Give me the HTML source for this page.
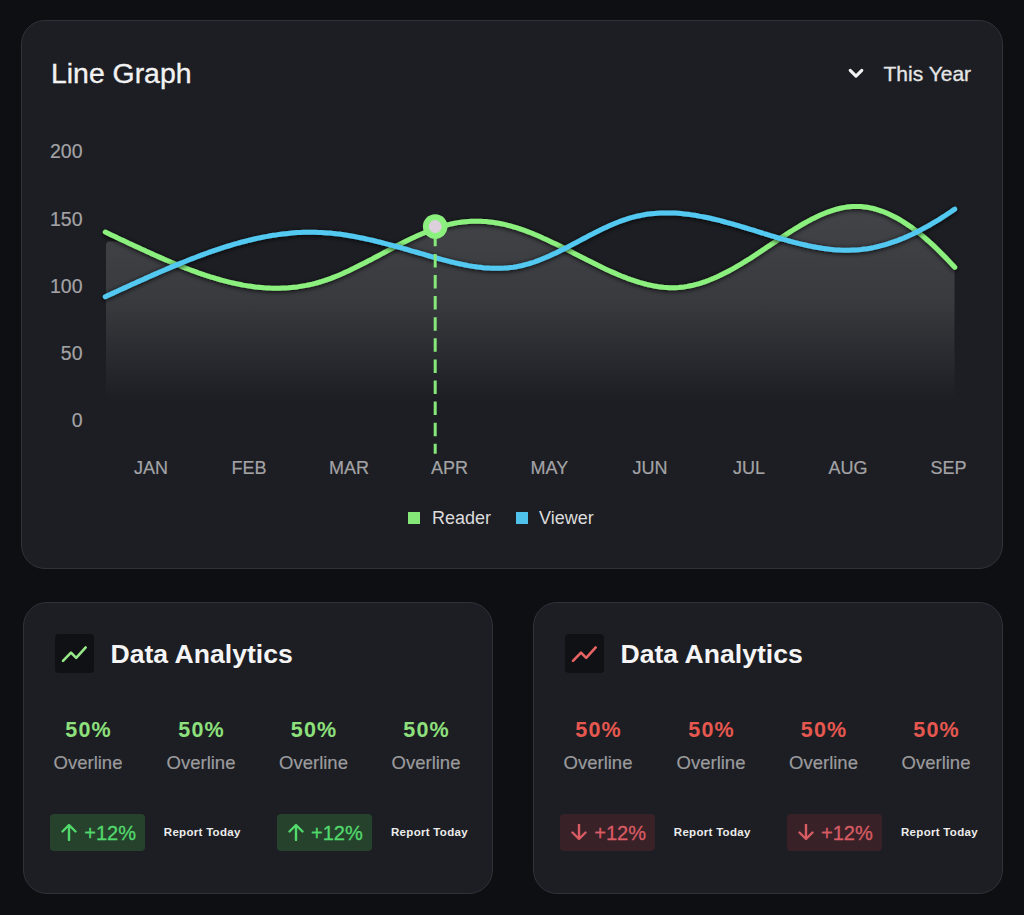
<!DOCTYPE html>
<html><head><meta charset="utf-8">
<style>
*{margin:0;padding:0;box-sizing:border-box}
html,body{width:1024px;height:915px;overflow:hidden;background:#0e0f12}
body{position:relative;font-family:"Liberation Sans",sans-serif}
.t{position:absolute;line-height:1;white-space:nowrap}
.card{position:absolute;background:#1c1e23;border:1px solid #30323a;border-radius:24px}
.sq{position:absolute}
</style></head><body>
<div class="card" style="left:21px;top:20px;width:982px;height:549px"></div>
<div class="card" style="left:23px;top:602px;width:470px;height:291.5px"></div>
<div class="card" style="left:533px;top:602px;width:470px;height:291.5px"></div>
<div class="t" style="left:51.00px;top:59.26px;font-size:28.4px;color:#f2f2f2;font-weight:400;-webkit-text-stroke:0.35px #f2f2f2;">Line Graph</div>
<div class="t" style="left:883.50px;top:62.72px;font-size:21px;color:#e6e6e6;font-weight:400;-webkit-text-stroke:0.3px #e6e6e6;">This Year</div>
<svg style="position:absolute;left:845px;top:64px" width="22" height="18" viewBox="0 0 22 18"><path d="M5.2,6.3 L11,12.1 L16.8,6.3" fill="none" stroke="#f2f2f2" stroke-width="3.1" stroke-linecap="round" stroke-linejoin="round"/></svg>
<div class="t" style="left:-217.50px;width:300px;text-align:right;top:142.49px;font-size:19.5px;color:#a3a3a6;font-weight:400;-webkit-text-stroke:0.2px #a3a3a6;">200</div>
<div class="t" style="left:-217.50px;width:300px;text-align:right;top:209.69px;font-size:19.5px;color:#a3a3a6;font-weight:400;-webkit-text-stroke:0.2px #a3a3a6;">150</div>
<div class="t" style="left:-217.50px;width:300px;text-align:right;top:276.79px;font-size:19.5px;color:#a3a3a6;font-weight:400;-webkit-text-stroke:0.2px #a3a3a6;">100</div>
<div class="t" style="left:-217.50px;width:300px;text-align:right;top:343.89px;font-size:19.5px;color:#a3a3a6;font-weight:400;-webkit-text-stroke:0.2px #a3a3a6;">50</div>
<div class="t" style="left:-217.50px;width:300px;text-align:right;top:410.89px;font-size:19.5px;color:#a3a3a6;font-weight:400;-webkit-text-stroke:0.2px #a3a3a6;">0</div>
<div class="t" style="left:1.00px;width:300px;text-align:center;top:459.36px;font-size:18px;color:#a3a3a6;font-weight:400;-webkit-text-stroke:0.2px #a3a3a6;">JAN</div>
<div class="t" style="left:99.00px;width:300px;text-align:center;top:459.36px;font-size:18px;color:#a3a3a6;font-weight:400;-webkit-text-stroke:0.2px #a3a3a6;">FEB</div>
<div class="t" style="left:199.00px;width:300px;text-align:center;top:459.36px;font-size:18px;color:#a3a3a6;font-weight:400;-webkit-text-stroke:0.2px #a3a3a6;">MAR</div>
<div class="t" style="left:299.60px;width:300px;text-align:center;top:459.36px;font-size:18px;color:#a3a3a6;font-weight:400;-webkit-text-stroke:0.2px #a3a3a6;">APR</div>
<div class="t" style="left:399.40px;width:300px;text-align:center;top:459.36px;font-size:18px;color:#a3a3a6;font-weight:400;-webkit-text-stroke:0.2px #a3a3a6;">MAY</div>
<div class="t" style="left:500.00px;width:300px;text-align:center;top:459.36px;font-size:18px;color:#a3a3a6;font-weight:400;-webkit-text-stroke:0.2px #a3a3a6;">JUN</div>
<div class="t" style="left:599.00px;width:300px;text-align:center;top:459.36px;font-size:18px;color:#a3a3a6;font-weight:400;-webkit-text-stroke:0.2px #a3a3a6;">JUL</div>
<div class="t" style="left:698.00px;width:300px;text-align:center;top:459.36px;font-size:18px;color:#a3a3a6;font-weight:400;-webkit-text-stroke:0.2px #a3a3a6;">AUG</div>
<div class="t" style="left:798.50px;width:300px;text-align:center;top:459.36px;font-size:18px;color:#a3a3a6;font-weight:400;-webkit-text-stroke:0.2px #a3a3a6;">SEP</div>
<div class="sq" style="left:408px;top:512px;width:12px;height:12px;background:#86e779"></div>
<div class="t" style="left:432.00px;top:508.76px;font-size:18px;color:#dcdcdc;font-weight:400;">Reader</div>
<div class="sq" style="left:516px;top:512px;width:12px;height:12px;background:#4fc3ec"></div>
<div class="t" style="left:539.00px;top:508.76px;font-size:18px;color:#dcdcdc;font-weight:400;">Viewer</div>
<svg style="position:absolute;left:0;top:0" width="1024" height="915" viewBox="0 0 1024 915">
<defs>
<linearGradient id="fg" gradientUnits="userSpaceOnUse" x1="0" y1="205" x2="0" y2="400">
<stop offset="0" stop-color="#ffffff" stop-opacity="0.17"/>
<stop offset="0.5" stop-color="#ffffff" stop-opacity="0.125"/>
<stop offset="1" stop-color="#ffffff" stop-opacity="0"/>
</linearGradient>
<filter id="sh" x="-10%" y="-50%" width="120%" height="200%">
<feDropShadow dx="0" dy="1" stdDeviation="2.5" flood-color="#000" flood-opacity="0.85"/>
</filter>
</defs>
<path d="M106,400 L106,245.5 Q106,241.3 110.5,241.3 L126.3,242.0 L129.3,243.4 L132.3,244.8 L135.3,246.2 L138.3,247.6 L141.3,249.0 L144.3,250.3 L147.3,251.7 L150.3,253.1 L153.3,254.4 L156.3,255.8 L159.3,257.1 L162.3,258.4 L165.3,259.7 L168.3,261.0 L171.3,262.3 L174.3,263.5 L177.3,264.8 L180.3,266.0 L183.3,267.2 L186.3,268.3 L189.3,269.5 L192.3,270.6 L195.3,271.7 L198.3,272.8 L201.3,273.8 L204.3,274.9 L207.3,275.8 L210.3,276.8 L213.3,277.7 L216.3,278.6 L219.3,279.5 L222.3,280.3 L225.3,281.1 L228.3,281.9 L231.3,282.6 L234.3,283.3 L237.3,283.9 L240.3,284.5 L243.3,285.1 L246.3,285.6 L249.3,286.1 L252.3,286.5 L255.3,286.9 L258.3,287.2 L261.3,287.5 L264.3,287.8 L267.3,287.9 L270.3,288.1 L273.3,288.2 L276.3,288.2 L279.3,288.2 L282.3,288.1 L285.3,288.0 L288.3,287.8 L291.3,287.5 L294.3,287.2 L297.3,286.9 L300.3,286.4 L303.3,285.9 L306.3,285.4 L309.3,284.8 L312.3,284.1 L315.3,283.3 L318.3,282.5 L321.3,281.6 L324.3,280.7 L327.3,279.6 L330.3,278.6 L333.3,277.4 L336.3,276.2 L339.3,275.0 L342.3,273.7 L345.3,272.3 L348.3,271.0 L351.3,269.5 L354.3,268.1 L357.3,266.6 L360.3,265.1 L363.3,263.6 L366.3,262.0 L369.3,260.4 L372.3,258.9 L375.3,257.3 L378.3,255.7 L381.3,254.1 L384.3,252.5 L387.3,250.9 L390.3,249.3 L393.3,247.7 L396.3,246.1 L399.3,244.6 L402.3,243.0 L405.3,241.5 L408.3,240.0 L411.3,238.6 L414.3,237.2 L417.3,235.8 L420.3,234.5 L423.3,233.2 L426.3,231.9 L429.3,230.7 L432.3,229.6 L435.3,228.5 L438.3,227.5 L441.3,226.5 L444.3,225.7 L447.3,224.9 L450.3,224.1 L453.3,223.5 L456.3,222.9 L459.3,222.4 L462.3,222.0 L465.3,221.7 L468.3,221.5 L471.3,221.3 L474.3,221.2 L477.3,221.2 L480.3,221.3 L483.3,221.4 L486.3,221.6 L489.3,221.9 L492.3,222.3 L495.3,222.7 L498.3,223.2 L501.3,223.8 L504.3,224.4 L507.3,225.2 L510.3,225.9 L513.3,226.8 L516.3,227.7 L519.3,228.6 L522.3,229.7 L525.3,230.7 L528.3,231.9 L531.3,233.0 L534.3,234.3 L537.3,235.5 L540.3,236.8 L543.3,238.2 L546.3,239.5 L549.3,240.9 L552.3,242.4 L555.3,243.8 L558.3,245.3 L561.3,246.8 L564.3,248.3 L567.3,249.8 L570.3,251.3 L573.3,252.9 L576.3,254.4 L579.3,256.0 L582.3,257.5 L585.3,259.0 L588.3,260.6 L591.3,262.1 L594.3,263.6 L597.3,265.1 L600.3,266.5 L603.3,268.0 L606.3,269.4 L609.3,270.8 L612.3,272.1 L615.3,273.4 L618.3,274.7 L621.3,276.0 L624.3,277.1 L627.3,278.3 L630.3,279.4 L633.3,280.4 L636.3,281.4 L639.3,282.4 L642.3,283.2 L645.3,284.0 L648.3,284.8 L651.3,285.4 L654.3,286.0 L657.3,286.5 L660.3,286.9 L663.3,287.3 L666.3,287.5 L669.3,287.7 L672.3,287.7 L675.3,287.7 L678.3,287.5 L681.3,287.2 L684.3,286.9 L687.3,286.4 L690.3,285.8 L693.3,285.2 L696.3,284.4 L699.3,283.6 L702.3,282.6 L705.3,281.6 L708.3,280.5 L711.3,279.3 L714.3,278.0 L717.3,276.7 L720.3,275.3 L723.3,273.8 L726.3,272.3 L729.3,270.7 L732.3,269.1 L735.3,267.4 L738.3,265.6 L741.3,263.9 L744.3,262.0 L747.3,260.2 L750.3,258.3 L753.3,256.3 L756.3,254.4 L759.3,252.4 L762.3,250.4 L765.3,248.4 L768.3,246.3 L771.3,244.3 L774.3,242.3 L777.3,240.3 L780.3,238.3 L783.3,236.3 L786.3,234.3 L789.3,232.4 L792.3,230.5 L795.3,228.6 L798.3,226.8 L801.3,225.0 L804.3,223.3 L807.3,221.6 L810.3,220.0 L813.3,218.4 L816.3,216.9 L819.3,215.5 L822.3,214.2 L825.3,213.0 L828.3,211.8 L831.3,210.8 L834.3,209.8 L837.3,209.0 L840.3,208.3 L843.3,207.6 L846.3,207.1 L849.3,206.8 L852.3,206.5 L855.3,206.4 L858.3,206.4 L861.3,206.6 L864.3,206.9 L867.3,207.3 L870.3,207.9 L873.3,208.5 L876.3,209.4 L879.3,210.3 L882.3,211.3 L885.3,212.5 L888.3,213.8 L891.3,215.2 L894.3,216.7 L897.3,218.3 L900.3,220.0 L903.3,221.9 L906.3,223.8 L909.3,225.8 L912.3,227.9 L915.3,230.2 L918.3,232.5 L921.3,234.9 L924.3,237.4 L927.3,240.0 L930.3,242.7 L933.3,245.4 L936.3,248.3 L939.3,251.2 L942.3,254.2 L945.3,257.2 L948.3,260.4 L951.3,263.6 L954.3,266.8 L954.7,267.3 L954.5,267.3 L954.5,400 Z" fill="url(#fg)"/>
<path d="M105.3,232.1 L108.3,233.5 L111.3,234.9 L114.3,236.3 L117.3,237.8 L120.3,239.2 L123.3,240.6 L126.3,242.0 L129.3,243.4 L132.3,244.8 L135.3,246.2 L138.3,247.6 L141.3,249.0 L144.3,250.3 L147.3,251.7 L150.3,253.1 L153.3,254.4 L156.3,255.8 L159.3,257.1 L162.3,258.4 L165.3,259.7 L168.3,261.0 L171.3,262.3 L174.3,263.5 L177.3,264.8 L180.3,266.0 L183.3,267.2 L186.3,268.3 L189.3,269.5 L192.3,270.6 L195.3,271.7 L198.3,272.8 L201.3,273.8 L204.3,274.9 L207.3,275.8 L210.3,276.8 L213.3,277.7 L216.3,278.6 L219.3,279.5 L222.3,280.3 L225.3,281.1 L228.3,281.9 L231.3,282.6 L234.3,283.3 L237.3,283.9 L240.3,284.5 L243.3,285.1 L246.3,285.6 L249.3,286.1 L252.3,286.5 L255.3,286.9 L258.3,287.2 L261.3,287.5 L264.3,287.8 L267.3,287.9 L270.3,288.1 L273.3,288.2 L276.3,288.2 L279.3,288.2 L282.3,288.1 L285.3,288.0 L288.3,287.8 L291.3,287.5 L294.3,287.2 L297.3,286.9 L300.3,286.4 L303.3,285.9 L306.3,285.4 L309.3,284.8 L312.3,284.1 L315.3,283.3 L318.3,282.5 L321.3,281.6 L324.3,280.7 L327.3,279.6 L330.3,278.6 L333.3,277.4 L336.3,276.2 L339.3,275.0 L342.3,273.7 L345.3,272.3 L348.3,271.0 L351.3,269.5 L354.3,268.1 L357.3,266.6 L360.3,265.1 L363.3,263.6 L366.3,262.0 L369.3,260.4 L372.3,258.9 L375.3,257.3 L378.3,255.7 L381.3,254.1 L384.3,252.5 L387.3,250.9 L390.3,249.3 L393.3,247.7 L396.3,246.1 L399.3,244.6 L402.3,243.0 L405.3,241.5 L408.3,240.0 L411.3,238.6 L414.3,237.2 L417.3,235.8 L420.3,234.5 L423.3,233.2 L426.3,231.9 L429.3,230.7 L432.3,229.6 L435.3,228.5 L438.3,227.5 L441.3,226.5 L444.3,225.7 L447.3,224.9 L450.3,224.1 L453.3,223.5 L456.3,222.9 L459.3,222.4 L462.3,222.0 L465.3,221.7 L468.3,221.5 L471.3,221.3 L474.3,221.2 L477.3,221.2 L480.3,221.3 L483.3,221.4 L486.3,221.6 L489.3,221.9 L492.3,222.3 L495.3,222.7 L498.3,223.2 L501.3,223.8 L504.3,224.4 L507.3,225.2 L510.3,225.9 L513.3,226.8 L516.3,227.7 L519.3,228.6 L522.3,229.7 L525.3,230.7 L528.3,231.9 L531.3,233.0 L534.3,234.3 L537.3,235.5 L540.3,236.8 L543.3,238.2 L546.3,239.5 L549.3,240.9 L552.3,242.4 L555.3,243.8 L558.3,245.3 L561.3,246.8 L564.3,248.3 L567.3,249.8 L570.3,251.3 L573.3,252.9 L576.3,254.4 L579.3,256.0 L582.3,257.5 L585.3,259.0 L588.3,260.6 L591.3,262.1 L594.3,263.6 L597.3,265.1 L600.3,266.5 L603.3,268.0 L606.3,269.4 L609.3,270.8 L612.3,272.1 L615.3,273.4 L618.3,274.7 L621.3,276.0 L624.3,277.1 L627.3,278.3 L630.3,279.4 L633.3,280.4 L636.3,281.4 L639.3,282.4 L642.3,283.2 L645.3,284.0 L648.3,284.8 L651.3,285.4 L654.3,286.0 L657.3,286.5 L660.3,286.9 L663.3,287.3 L666.3,287.5 L669.3,287.7 L672.3,287.7 L675.3,287.7 L678.3,287.5 L681.3,287.2 L684.3,286.9 L687.3,286.4 L690.3,285.8 L693.3,285.2 L696.3,284.4 L699.3,283.6 L702.3,282.6 L705.3,281.6 L708.3,280.5 L711.3,279.3 L714.3,278.0 L717.3,276.7 L720.3,275.3 L723.3,273.8 L726.3,272.3 L729.3,270.7 L732.3,269.1 L735.3,267.4 L738.3,265.6 L741.3,263.9 L744.3,262.0 L747.3,260.2 L750.3,258.3 L753.3,256.3 L756.3,254.4 L759.3,252.4 L762.3,250.4 L765.3,248.4 L768.3,246.3 L771.3,244.3 L774.3,242.3 L777.3,240.3 L780.3,238.3 L783.3,236.3 L786.3,234.3 L789.3,232.4 L792.3,230.5 L795.3,228.6 L798.3,226.8 L801.3,225.0 L804.3,223.3 L807.3,221.6 L810.3,220.0 L813.3,218.4 L816.3,216.9 L819.3,215.5 L822.3,214.2 L825.3,213.0 L828.3,211.8 L831.3,210.8 L834.3,209.8 L837.3,209.0 L840.3,208.3 L843.3,207.6 L846.3,207.1 L849.3,206.8 L852.3,206.5 L855.3,206.4 L858.3,206.4 L861.3,206.6 L864.3,206.9 L867.3,207.3 L870.3,207.9 L873.3,208.5 L876.3,209.4 L879.3,210.3 L882.3,211.3 L885.3,212.5 L888.3,213.8 L891.3,215.2 L894.3,216.7 L897.3,218.3 L900.3,220.0 L903.3,221.9 L906.3,223.8 L909.3,225.8 L912.3,227.9 L915.3,230.2 L918.3,232.5 L921.3,234.9 L924.3,237.4 L927.3,240.0 L930.3,242.7 L933.3,245.4 L936.3,248.3 L939.3,251.2 L942.3,254.2 L945.3,257.2 L948.3,260.4 L951.3,263.6 L954.3,266.8 L954.7,267.3" fill="none" stroke="#8cf07e" stroke-width="5" stroke-linecap="round" stroke-linejoin="round" filter="url(#sh)"/>
<path d="M105.3,296.7 L108.3,295.3 L111.3,293.9 L114.3,292.6 L117.3,291.2 L120.3,289.8 L123.3,288.4 L126.3,287.1 L129.3,285.7 L132.3,284.3 L135.3,283.0 L138.3,281.6 L141.3,280.3 L144.3,278.9 L147.3,277.6 L150.3,276.2 L153.3,274.9 L156.3,273.6 L159.3,272.3 L162.3,271.0 L165.3,269.7 L168.3,268.4 L171.3,267.1 L174.3,265.9 L177.3,264.6 L180.3,263.4 L183.3,262.2 L186.3,261.0 L189.3,259.8 L192.3,258.6 L195.3,257.5 L198.3,256.3 L201.3,255.2 L204.3,254.1 L207.3,253.0 L210.3,251.9 L213.3,250.9 L216.3,249.9 L219.3,248.9 L222.3,247.9 L225.3,246.9 L228.3,246.0 L231.3,245.1 L234.3,244.2 L237.3,243.4 L240.3,242.5 L243.3,241.7 L246.3,241.0 L249.3,240.2 L252.3,239.5 L255.3,238.8 L258.3,238.1 L261.3,237.5 L264.3,236.9 L267.3,236.4 L270.3,235.8 L273.3,235.3 L276.3,234.9 L279.3,234.4 L282.3,234.0 L285.3,233.7 L288.3,233.4 L291.3,233.1 L294.3,232.8 L297.3,232.6 L300.3,232.5 L303.3,232.3 L306.3,232.3 L309.3,232.2 L312.3,232.2 L315.3,232.3 L318.3,232.4 L321.3,232.5 L324.3,232.7 L327.3,232.9 L330.3,233.1 L333.3,233.4 L336.3,233.8 L339.3,234.1 L342.3,234.5 L345.3,235.0 L348.3,235.5 L351.3,236.0 L354.3,236.5 L357.3,237.1 L360.3,237.7 L363.3,238.3 L366.3,239.0 L369.3,239.6 L372.3,240.3 L375.3,241.0 L378.3,241.8 L381.3,242.5 L384.3,243.3 L387.3,244.1 L390.3,244.9 L393.3,245.7 L396.3,246.5 L399.3,247.3 L402.3,248.2 L405.3,249.0 L408.3,249.9 L411.3,250.8 L414.3,251.6 L417.3,252.5 L420.3,253.4 L423.3,254.2 L426.3,255.1 L429.3,256.0 L432.3,256.8 L435.3,257.7 L438.3,258.5 L441.3,259.3 L444.3,260.1 L447.3,260.9 L450.3,261.7 L453.3,262.4 L456.3,263.1 L459.3,263.8 L462.3,264.4 L465.3,265.0 L468.3,265.6 L471.3,266.1 L474.3,266.6 L477.3,267.0 L480.3,267.3 L483.3,267.7 L486.3,267.9 L489.3,268.1 L492.3,268.2 L495.3,268.3 L498.3,268.3 L501.3,268.2 L504.3,268.1 L507.3,267.9 L510.3,267.5 L513.3,267.2 L516.3,266.7 L519.3,266.1 L522.3,265.5 L525.3,264.7 L528.3,263.9 L531.3,263.0 L534.3,262.0 L537.3,260.9 L540.3,259.7 L543.3,258.5 L546.3,257.3 L549.3,256.0 L552.3,254.6 L555.3,253.2 L558.3,251.7 L561.3,250.2 L564.3,248.7 L567.3,247.2 L570.3,245.6 L573.3,244.0 L576.3,242.5 L579.3,240.9 L582.3,239.3 L585.3,237.7 L588.3,236.1 L591.3,234.6 L594.3,233.0 L597.3,231.5 L600.3,230.0 L603.3,228.6 L606.3,227.2 L609.3,225.8 L612.3,224.5 L615.3,223.2 L618.3,222.0 L621.3,220.9 L624.3,219.8 L627.3,218.8 L630.3,217.9 L633.3,217.1 L636.3,216.3 L639.3,215.7 L642.3,215.1 L645.3,214.5 L648.3,214.1 L651.3,213.7 L654.3,213.4 L657.3,213.2 L660.3,213.0 L663.3,212.9 L666.3,212.9 L669.3,212.9 L672.3,213.0 L675.3,213.1 L678.3,213.3 L681.3,213.6 L684.3,213.9 L687.3,214.2 L690.3,214.6 L693.3,215.1 L696.3,215.5 L699.3,216.1 L702.3,216.6 L705.3,217.2 L708.3,217.8 L711.3,218.5 L714.3,219.2 L717.3,219.9 L720.3,220.7 L723.3,221.5 L726.3,222.3 L729.3,223.1 L732.3,223.9 L735.3,224.8 L738.3,225.7 L741.3,226.6 L744.3,227.5 L747.3,228.4 L750.3,229.3 L753.3,230.2 L756.3,231.2 L759.3,232.1 L762.3,233.0 L765.3,234.0 L768.3,234.9 L771.3,235.8 L774.3,236.7 L777.3,237.6 L780.3,238.5 L783.3,239.4 L786.3,240.2 L789.3,241.0 L792.3,241.8 L795.3,242.6 L798.3,243.4 L801.3,244.1 L804.3,244.8 L807.3,245.5 L810.3,246.1 L813.3,246.7 L816.3,247.3 L819.3,247.8 L822.3,248.3 L825.3,248.7 L828.3,249.1 L831.3,249.4 L834.3,249.7 L837.3,249.9 L840.3,250.1 L843.3,250.2 L846.3,250.2 L849.3,250.2 L852.3,250.1 L855.3,250.0 L858.3,249.8 L861.3,249.5 L864.3,249.1 L867.3,248.7 L870.3,248.2 L873.3,247.6 L876.3,246.9 L879.3,246.2 L882.3,245.4 L885.3,244.6 L888.3,243.7 L891.3,242.7 L894.3,241.7 L897.3,240.6 L900.3,239.4 L903.3,238.2 L906.3,236.9 L909.3,235.5 L912.3,234.2 L915.3,232.7 L918.3,231.2 L921.3,229.6 L924.3,228.0 L927.3,226.4 L930.3,224.7 L933.3,222.9 L936.3,221.1 L939.3,219.3 L942.3,217.4 L945.3,215.5 L948.3,213.5 L951.3,211.5 L954.3,209.4 L954.7,209.2" fill="none" stroke="#52c8f0" stroke-width="5" stroke-linecap="round" stroke-linejoin="round" filter="url(#sh)"/>
<line x1="435.2" y1="232.8" x2="435.2" y2="453.7" stroke="#86e879" stroke-width="3" stroke-dasharray="13.5 7.6"/>
<circle cx="435.2" cy="226.5" r="12.3" fill="#8cf07e"/>
<circle cx="435.2" cy="226.5" r="6.4" fill="#dcd0dc"/>
</svg>
<div style="position:absolute;left:54.5px;top:633.5px;width:39.5px;height:39.5px;background:#101114;border-radius:4px"></div>
<svg style="position:absolute;left:54.5px;top:633.5px" width="40" height="40" viewBox="0 0 40 40"><path d="M8,26.8 L16,18.6 L21.2,23.8 L30.7,13.4" fill="none" stroke="#98e88a" stroke-width="2.6" stroke-linecap="round" stroke-linejoin="round"/></svg>
<div class="t" style="left:110.50px;top:640.58px;font-size:26.6px;color:#f5f5f5;font-weight:700;">Data Analytics</div>
<div class="t" style="left:-62.00px;width:300px;text-align:center;top:719.50px;font-size:21.5px;color:#8de07c;font-weight:700;letter-spacing:1.2px;text-indent:1.2px;">50%</div>
<div class="t" style="left:-62.00px;width:300px;text-align:center;top:753.54px;font-size:18.5px;color:#9b9b9e;font-weight:400;-webkit-text-stroke:0.2px #9b9b9e;">Overline</div>
<div class="t" style="left:51.00px;width:300px;text-align:center;top:719.50px;font-size:21.5px;color:#8de07c;font-weight:700;letter-spacing:1.2px;text-indent:1.2px;">50%</div>
<div class="t" style="left:51.00px;width:300px;text-align:center;top:753.54px;font-size:18.5px;color:#9b9b9e;font-weight:400;-webkit-text-stroke:0.2px #9b9b9e;">Overline</div>
<div class="t" style="left:163.50px;width:300px;text-align:center;top:719.50px;font-size:21.5px;color:#8de07c;font-weight:700;letter-spacing:1.2px;text-indent:1.2px;">50%</div>
<div class="t" style="left:163.50px;width:300px;text-align:center;top:753.54px;font-size:18.5px;color:#9b9b9e;font-weight:400;-webkit-text-stroke:0.2px #9b9b9e;">Overline</div>
<div class="t" style="left:276.00px;width:300px;text-align:center;top:719.50px;font-size:21.5px;color:#8de07c;font-weight:700;letter-spacing:1.2px;text-indent:1.2px;">50%</div>
<div class="t" style="left:276.00px;width:300px;text-align:center;top:753.54px;font-size:18.5px;color:#9b9b9e;font-weight:400;-webkit-text-stroke:0.2px #9b9b9e;">Overline</div>
<div style="position:absolute;left:49.8px;top:813.5px;width:95px;height:37.7px;background:#26422c;border-radius:4px"></div>
<svg style="position:absolute;left:61.099999999999994px;top:824px" width="16" height="17" viewBox="0 0 16 17"><path d="M8,16 L8,1.5 M1.5,7.5 L8,1 L14.5,7.5" fill="none" stroke="#52d96c" stroke-width="2.4" stroke-linecap="round" stroke-linejoin="round"/></svg>
<div class="t" style="left:84.30px;top:823.47px;font-size:20px;color:#52d96c;font-weight:400;-webkit-text-stroke:0.3px #52d96c;">+12%</div>
<div class="t" style="left:163.80px;top:826.57px;font-size:11.5px;color:#ececec;font-weight:700;letter-spacing:0.3px;">Report Today</div>
<div style="position:absolute;left:276.5px;top:813.5px;width:95px;height:37.7px;background:#26422c;border-radius:4px"></div>
<svg style="position:absolute;left:287.8px;top:824px" width="16" height="17" viewBox="0 0 16 17"><path d="M8,16 L8,1.5 M1.5,7.5 L8,1 L14.5,7.5" fill="none" stroke="#52d96c" stroke-width="2.4" stroke-linecap="round" stroke-linejoin="round"/></svg>
<div class="t" style="left:311.00px;top:823.47px;font-size:20px;color:#52d96c;font-weight:400;-webkit-text-stroke:0.3px #52d96c;">+12%</div>
<div class="t" style="left:391.00px;top:826.57px;font-size:11.5px;color:#ececec;font-weight:700;letter-spacing:0.3px;">Report Today</div>
<div style="position:absolute;left:564.5px;top:633.5px;width:39.5px;height:39.5px;background:#101114;border-radius:4px"></div>
<svg style="position:absolute;left:564.5px;top:633.5px" width="40" height="40" viewBox="0 0 40 40"><path d="M8,26.8 L16,18.6 L21.2,23.8 L30.7,13.4" fill="none" stroke="#e86464" stroke-width="2.6" stroke-linecap="round" stroke-linejoin="round"/></svg>
<div class="t" style="left:620.50px;top:640.58px;font-size:26.6px;color:#f5f5f5;font-weight:700;">Data Analytics</div>
<div class="t" style="left:448.00px;width:300px;text-align:center;top:719.50px;font-size:21.5px;color:#e5574f;font-weight:700;letter-spacing:1.2px;text-indent:1.2px;">50%</div>
<div class="t" style="left:448.00px;width:300px;text-align:center;top:753.54px;font-size:18.5px;color:#9b9b9e;font-weight:400;-webkit-text-stroke:0.2px #9b9b9e;">Overline</div>
<div class="t" style="left:561.00px;width:300px;text-align:center;top:719.50px;font-size:21.5px;color:#e5574f;font-weight:700;letter-spacing:1.2px;text-indent:1.2px;">50%</div>
<div class="t" style="left:561.00px;width:300px;text-align:center;top:753.54px;font-size:18.5px;color:#9b9b9e;font-weight:400;-webkit-text-stroke:0.2px #9b9b9e;">Overline</div>
<div class="t" style="left:673.50px;width:300px;text-align:center;top:719.50px;font-size:21.5px;color:#e5574f;font-weight:700;letter-spacing:1.2px;text-indent:1.2px;">50%</div>
<div class="t" style="left:673.50px;width:300px;text-align:center;top:753.54px;font-size:18.5px;color:#9b9b9e;font-weight:400;-webkit-text-stroke:0.2px #9b9b9e;">Overline</div>
<div class="t" style="left:786.00px;width:300px;text-align:center;top:719.50px;font-size:21.5px;color:#e5574f;font-weight:700;letter-spacing:1.2px;text-indent:1.2px;">50%</div>
<div class="t" style="left:786.00px;width:300px;text-align:center;top:753.54px;font-size:18.5px;color:#9b9b9e;font-weight:400;-webkit-text-stroke:0.2px #9b9b9e;">Overline</div>
<div style="position:absolute;left:559.8px;top:813.5px;width:95px;height:37.7px;background:#382127;border-radius:4px"></div>
<svg style="position:absolute;left:571.0999999999999px;top:824px" width="16" height="17" viewBox="0 0 16 17"><path d="M8,0 L8,14.5 M1.5,8.5 L8,15 L14.5,8.5" fill="none" stroke="#d95c64" stroke-width="2.4" stroke-linecap="round" stroke-linejoin="round"/></svg>
<div class="t" style="left:594.30px;top:823.47px;font-size:20px;color:#d95c64;font-weight:400;-webkit-text-stroke:0.3px #d95c64;">+12%</div>
<div class="t" style="left:673.80px;top:826.57px;font-size:11.5px;color:#ececec;font-weight:700;letter-spacing:0.3px;">Report Today</div>
<div style="position:absolute;left:786.5px;top:813.5px;width:95px;height:37.7px;background:#382127;border-radius:4px"></div>
<svg style="position:absolute;left:797.8px;top:824px" width="16" height="17" viewBox="0 0 16 17"><path d="M8,0 L8,14.5 M1.5,8.5 L8,15 L14.5,8.5" fill="none" stroke="#d95c64" stroke-width="2.4" stroke-linecap="round" stroke-linejoin="round"/></svg>
<div class="t" style="left:821.00px;top:823.47px;font-size:20px;color:#d95c64;font-weight:400;-webkit-text-stroke:0.3px #d95c64;">+12%</div>
<div class="t" style="left:901.00px;top:826.57px;font-size:11.5px;color:#ececec;font-weight:700;letter-spacing:0.3px;">Report Today</div>
</body></html>
